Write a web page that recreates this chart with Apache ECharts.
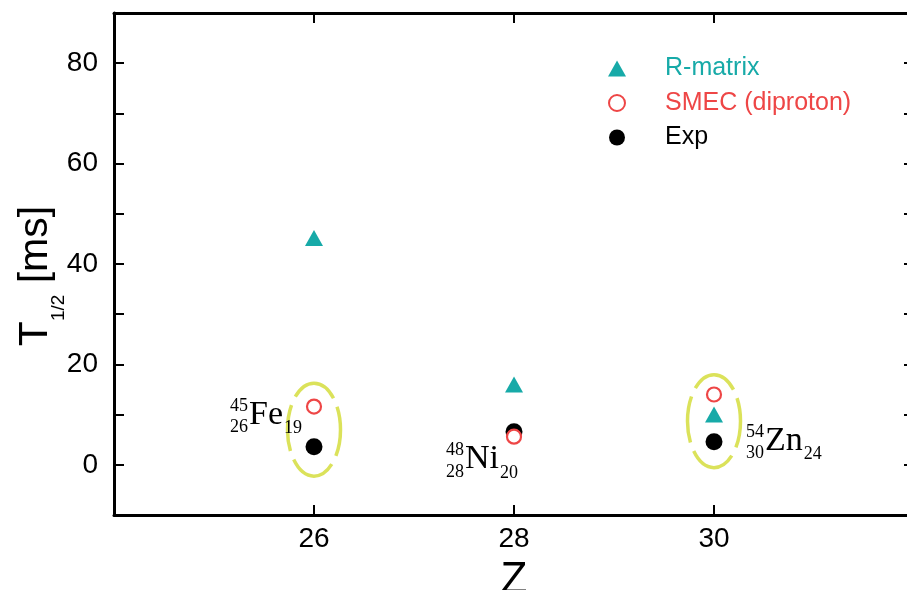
<!DOCTYPE html>
<html><head><meta charset="utf-8">
<script src="https://cdn.jsdelivr.net/npm/echarts@6/dist/echarts.min.js"></script>
<style>html,body{margin:0;padding:0;background:#fff}#c{width:907px;height:590px}</style>
</head><body><div id="c"></div>
<script>
// ---- data ----
const zValues = [26, 28, 30];
const rMatrix = [45.2, 16.0, 10.0];
const smec = [11.6, 5.6, 14.0];
const expValues = [3.6, 6.6, 4.6];
const seriesNames = ['R-matrix', 'SMEC (diproton)', 'Exp'];
const xTickLabels = [26, 28, 30];
const yTickLabels = [0, 20, 40, 60, 80];
// nuclide annotation anchors (Z, T1/2 of text baseline) and text parts
const labelAnchors = [[25.35, 7.85], [27.51, -1.0], [30.51, 2.65]];
const labelMass = ['45', '48', '54'];
const labelProtons = ['26', '28', '30'];
const labelSymbol = ['Fe', 'Ni', 'Zn'];
const labelNeutrons = ['19', '20', '24'];
// dashed highlight ellipse centres (Z, T1/2)
const highlightCentres = [[26, 7.0], [30, 8.7]];

// ---- styles ----
const TEAL = '#17aaa8', RED = '#ee4646', HILITE = '#dbe25a';
const SANS = "'Liberation Sans', Arial, sans-serif";
const SERIF = "'Liberation Serif', 'Times New Roman', serif";

const measureCtx = document.createElement('canvas').getContext('2d');
function textWidth(str, size, family) {
  measureCtx.font = size + 'px ' + family;
  return measureCtx.measureText(str).width;
}

const chart = echarts.init(document.getElementById('c'), null, {renderer: 'canvas'});

const axisLineStyle = {show: true, onZero: false, lineStyle: {color: '#000', width: 3}};
const tickStyle = {show: true, inside: true, length: 10, lineStyle: {color: '#000', width: 2}};

chart.setOption({
  animation: false,
  backgroundColor: '#fff',
  grid: {left: 114, top: 13, width: 800, height: 502, containLabel: false, outerBoundsMode: 'none'},
  legend: {
    orient: 'vertical', left: 608, top: 56, padding: 0,
    itemWidth: 18, itemHeight: 16, itemGap: 9.5,
    selectedMode: false,
    textStyle: {fontSize: 25, fontFamily: SANS, lineHeight: 24, padding: [0, 0, 0, 34]},
    data: [
      {name: seriesNames[0], textStyle: {color: TEAL}},
      {name: seriesNames[1], textStyle: {color: RED}},
      {name: seriesNames[2], textStyle: {color: '#000'}}
    ]
  },
  xAxis: [{
    type: 'value', min: 24, max: 32, interval: 2, position: 'bottom',
    axisLine: axisLineStyle, axisTick: tickStyle, splitLine: {show: false},
    axisLabel: {fontSize: 28, fontFamily: SANS, color: '#000', margin: 10,
      formatter: v => xTickLabels.includes(v) ? String(v) : ''},
    name: 'Z', nameLocation: 'middle', nameGap: 44,
    nameTextStyle: {fontSize: 44, fontFamily: SANS, color: '#000'}
  }, {
    type: 'value', min: 24, max: 32, interval: 2, position: 'top',
    axisLine: axisLineStyle, axisTick: tickStyle, splitLine: {show: false},
    axisLabel: {show: false}
  }],
  yAxis: [{
    type: 'value', min: -10, max: 90, interval: 10, position: 'left',
    axisLine: axisLineStyle, axisTick: tickStyle, splitLine: {show: false},
    axisLabel: {fontSize: 28, fontFamily: SANS, color: '#000', margin: 16,
      formatter: v => yTickLabels.includes(v) ? String(v) : ''},
    name: '{t|T}{s|1/2}{t| [ms]}', nameLocation: 'middle', nameRotate: 90, nameGap: 57,
    nameMoveOverlap: false,
    nameTextStyle: {
      color: '#000', padding: [0, 24, 0, 0],
      rich: {
        t: {fontSize: 41, fontFamily: SANS, color: '#000', lineHeight: 42},
        s: {fontSize: 19, fontFamily: SANS, color: '#000', lineHeight: 19, padding: [46, 0, 0, 0]}
      }
    }
  }, {
    type: 'value', min: -10, max: 90, interval: 10, position: 'right',
    axisLine: axisLineStyle, axisTick: tickStyle, splitLine: {show: false},
    axisLabel: {show: false}
  }],
  series: [
    {
      type: 'custom', name: 'highlight', z: 1, silent: true,
      data: highlightCentres,
      renderItem: (params, api) => {
        const c = api.coord([api.value(0), api.value(1)]);
        return {
          type: 'ellipse',
          shape: {cx: c[0], cy: c[1], rx: 26.5, ry: 46.5},
          style: {fill: null, stroke: HILITE, lineWidth: 3.5, lineDash: [50, 9.2], lineDashOffset: 25}
        };
      }
    },
    {
      type: 'scatter', name: seriesNames[0], z: 3, symbol: 'triangle', symbolSize: [18, 16],
      itemStyle: {color: TEAL, opacity: 1},
      data: zValues.map((z, i) => [z, rMatrix[i]])
    },
    {
      type: 'scatter', name: seriesNames[2], z: 3, symbol: 'circle', symbolSize: 17,
      itemStyle: {color: '#000', opacity: 1},
      data: zValues.map((z, i) => [z, expValues[i]])
    },
    {
      type: 'scatter', name: seriesNames[1], z: 4, symbol: 'circle', symbolSize: 14,
      itemStyle: {color: '#fff', borderColor: RED, borderWidth: 2.2, opacity: 1},
      data: zValues.map((z, i) => [z, smec[i]])
    },
    {
      type: 'custom', name: 'nuclides', z: 5, silent: true,
      data: labelAnchors,
      renderItem: (params, api) => {
        const i = params.dataIndex;
        const p = api.coord([api.value(0), api.value(1)]);
        const x0 = p[0], base = p[1];
        const mainSize = 34, subSize = 18;
        const w = textWidth(labelSymbol[i], mainSize, SERIF);
        const t = (text, x, y, size, align) => ({
          type: 'text',
          style: {text: text, x: x, y: y, fontSize: size, fontFamily: SERIF, fill: '#000',
                  align: align, verticalAlign: 'middle'}
        });
        return {
          type: 'group',
          children: [
            t(labelMass[i], x0 - 1, base - 19.5, subSize, 'right'),
            t(labelProtons[i], x0 - 1, base + 2, subSize, 'right'),
            t(labelSymbol[i], x0, base - 10.4, mainSize, 'left'),
            t(labelNeutrons[i], x0 + w + 1, base + 3, subSize, 'left')
          ]
        };
      }
    }
  ]
});
</script></body></html>
